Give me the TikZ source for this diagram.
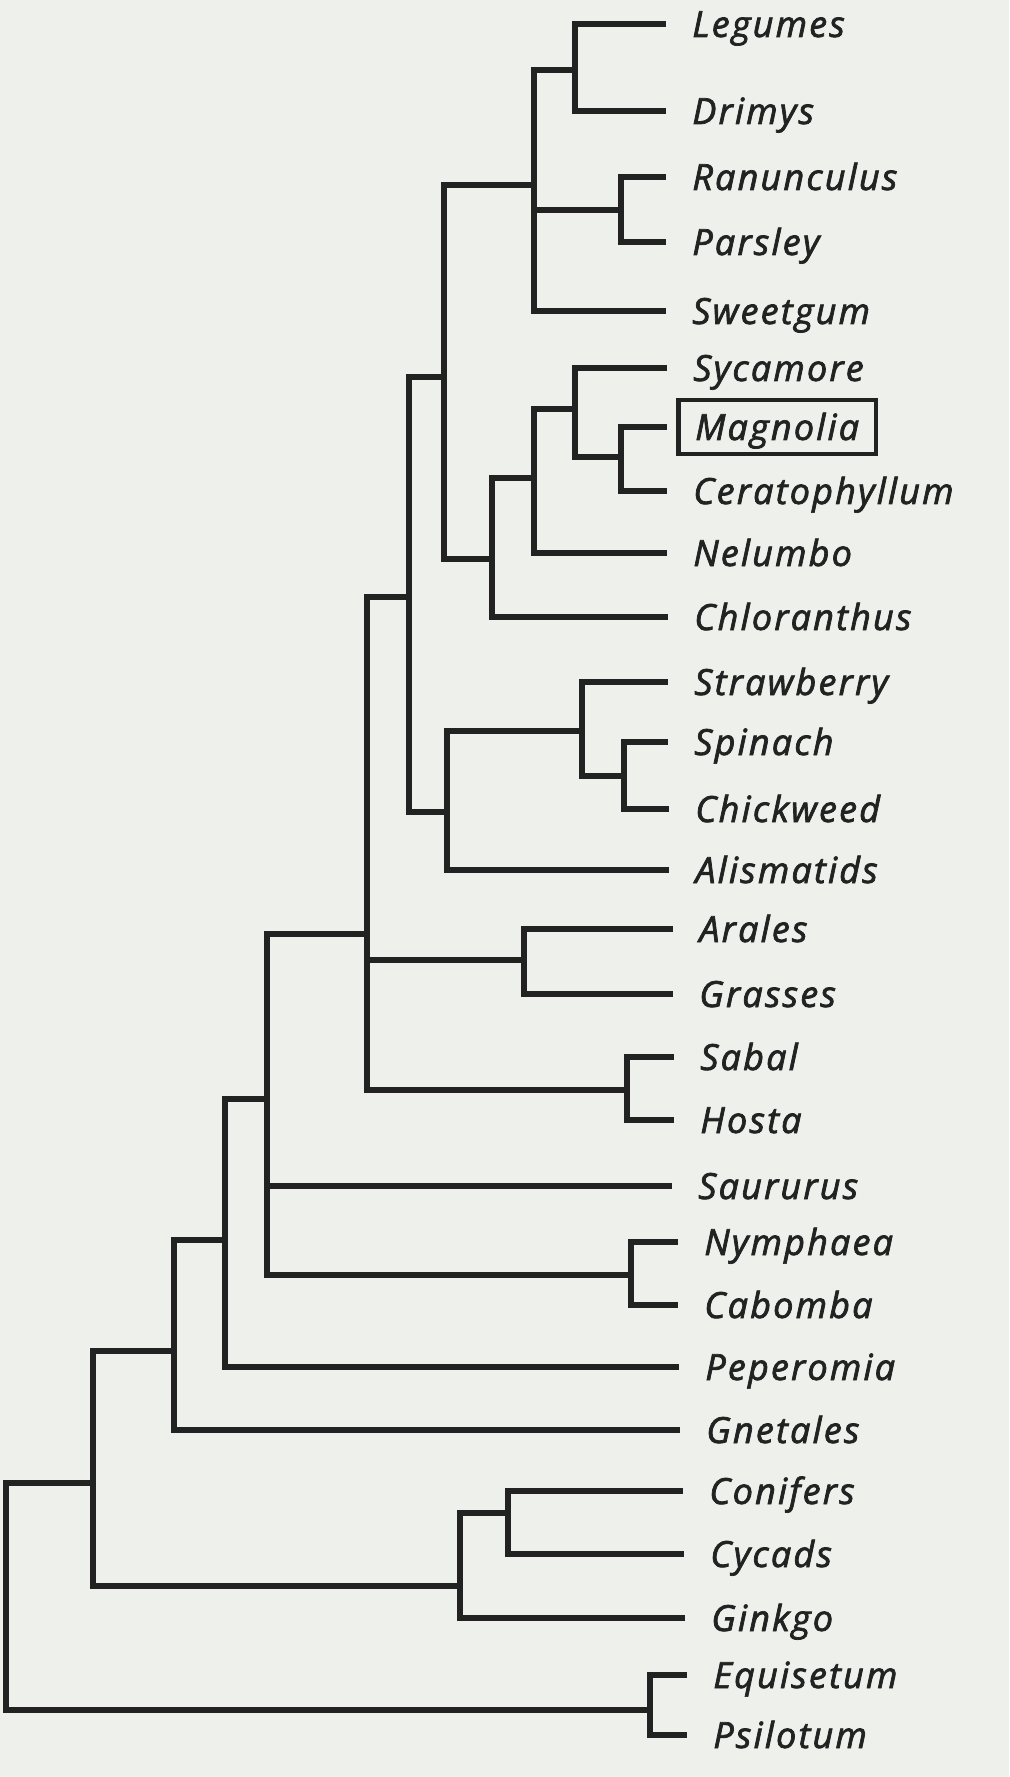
\documentclass[tikz,border=0pt]{standalone}
\usepackage{fontspec}
\newfontfamily\leaffont{Open Sans}[FakeBold=2, LetterSpace=6]
\definecolor{paper}{HTML}{EEF0EC}
\definecolor{ink}{HTML}{222222}
\tikzset{
  branch/.style={ink, line width=0.12cm, line cap=rect},
  leafbranch/.style={branch, shorten >=0.24cm},
  leaf/.style={anchor=west, text=ink, font=\leaffont\itshape\fontsize{20.5}{24}\selectfont,
    inner xsep=0.34cm, inner ysep=0.28cm, text height=0.52cm, text depth=0pt},
  boxed/.style={leaf, draw=ink, line width=0.09cm}
}
\begin{document}
\begin{tikzpicture}[x=0.02cm, y=-0.02cm]
% Paper
\fill[paper] (0,0) rectangle (1009,1777);
\useasboundingbox (0,0) rectangle (1009,1777);

% Taxa
\node[leaf] (leg) at (675,24) {Legumes};
\node[leaf] (dri) at (675,111) {Drimys};
\node[leaf] (ran) at (675,177) {Ranunculus};
\node[leaf] (par) at (675,242) {Parsley};
\node[leaf] (swe) at (675,311) {Sweetgum};
\node[leaf] (syc) at (676,368) {Sycamore};
\node[boxed] (mag) at (676,427) {Magnolia};
\node[leaf] (cer) at (676,491) {Ceratophyllum};
\node[leaf] (nel) at (676,553) {Nelumbo};
\node[leaf] (chl) at (677,617) {Chloranthus};
\node[leaf] (str) at (677,682) {Strawberry};
\node[leaf] (spi) at (677,742) {Spinach};
\node[leaf] (chi) at (678,809) {Chickweed};
\node[leaf] (ali) at (678,870) {Alismatids};
\node[leaf] (ara) at (682,929) {Arales};
\node[leaf] (gra) at (682,994) {Grasses};
\node[leaf] (sab) at (683,1057) {Sabal};
\node[leaf] (hos) at (683,1120) {Hosta};
\node[leaf] (sau) at (681,1186) {Saururus};
\node[leaf] (nym) at (687,1242) {Nymphaea};
\node[leaf] (cab) at (687,1305) {Cabomba};
\node[leaf] (pep) at (688,1367) {Peperomia};
\node[leaf] (gne) at (689,1430) {Gnetales};
\node[leaf] (con) at (692,1491) {Conifers};
\node[leaf] (cyc) at (693,1554) {Cycads};
\node[leaf] (gin) at (694,1618) {Ginkgo};
\node[leaf] (equ) at (696,1675) {Equisetum};
\node[leaf] (psi) at (696,1735) {Psilotum};

% Branch points
\coordinate (ldn) at (575,70);
\coordinate (rpn) at (621,210);
\coordinate (rosn) at (534,185);
\coordinate (mcn) at (621,457);
\coordinate (smcn) at (575,409);
\coordinate (nlmn) at (534,478);
\coordinate (chln) at (492,559);
\coordinate (eudn) at (444,377);
\coordinate (scn) at (624,776);
\coordinate (sscn) at (582,731);
\coordinate (alin) at (447,812);
\coordinate (dicn) at (409,597);
\coordinate (agn) at (524,960);
\coordinate (shn) at (627,1090);
\coordinate (monn) at (367,934);
\coordinate (ncn) at (631,1275);
\coordinate (saun) at (267,1099);
\coordinate (pepn) at (225,1240);
\coordinate (gnen) at (174,1351);
\coordinate (ccn) at (508,1513);
\coordinate (gymn) at (460,1586);
\coordinate (seedn) at (93,1483);
\coordinate (epn) at (650,1710);
\coordinate (root) at (6,1483);

% Terminal branches
\draw[leafbranch] (ldn) |- (leg);
\draw[leafbranch] (ldn) |- (dri);
\draw[leafbranch] (rpn) |- (ran);
\draw[leafbranch] (rpn) |- (par);
\draw[leafbranch] (rosn) |- (swe);
\draw[leafbranch] (smcn) |- (syc);
\draw[leafbranch] (mcn) |- (mag);
\draw[leafbranch] (mcn) |- (cer);
\draw[leafbranch] (nlmn) |- (nel);
\draw[leafbranch] (chln) |- (chl);
\draw[leafbranch] (sscn) |- (str);
\draw[leafbranch] (scn) |- (spi);
\draw[leafbranch] (scn) |- (chi);
\draw[leafbranch] (alin) |- (ali);
\draw[leafbranch] (agn) |- (ara);
\draw[leafbranch] (agn) |- (gra);
\draw[leafbranch] (shn) |- (sab);
\draw[leafbranch] (shn) |- (hos);
\draw[leafbranch] (saun) |- (sau);
\draw[leafbranch] (ncn) |- (nym);
\draw[leafbranch] (ncn) |- (cab);
\draw[leafbranch] (pepn) |- (pep);
\draw[leafbranch] (gnen) |- (gne);
\draw[leafbranch] (ccn) |- (con);
\draw[leafbranch] (ccn) |- (cyc);
\draw[leafbranch] (gymn) |- (gin);
\draw[leafbranch] (epn) |- (equ);
\draw[leafbranch] (epn) |- (psi);

% Inner branches
\draw[branch] (rosn) |- (ldn);
\draw[branch] (rosn) |- (rpn);
\draw[branch] (smcn) |- (mcn);
\draw[branch] (nlmn) |- (smcn);
\draw[branch] (chln) |- (nlmn);
\draw[branch] (eudn) |- (rosn);
\draw[branch] (eudn) |- (chln);
\draw[branch] (sscn) |- (scn);
\draw[branch] (alin) |- (sscn);
\draw[branch] (dicn) |- (eudn);
\draw[branch] (dicn) |- (alin);
\draw[branch] (monn) |- (dicn);
\draw[branch] (monn) |- (agn);
\draw[branch] (monn) |- (shn);
\draw[branch] (saun) |- (monn);
\draw[branch] (saun) |- (ncn);
\draw[branch] (pepn) |- (saun);
\draw[branch] (gnen) |- (pepn);
\draw[branch] (gymn) |- (ccn);
\draw[branch] (seedn) |- (gnen);
\draw[branch] (seedn) |- (gymn);
\draw[branch] (root) |- (seedn);
\draw[branch] (root) |- (epn);
\end{tikzpicture}
\end{document}
